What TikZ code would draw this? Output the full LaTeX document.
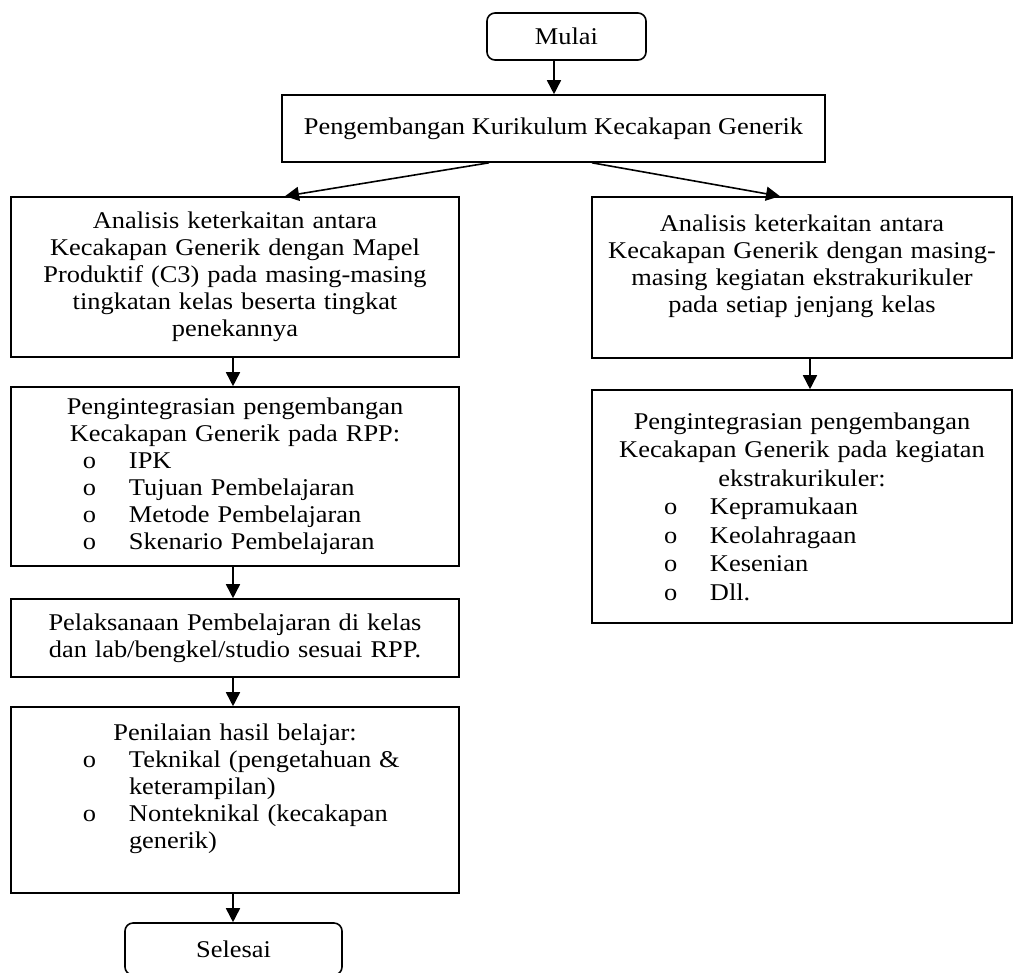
\documentclass[tikz,border=0pt]{standalone}
\usepackage{fontspec}
\setmainfont[FakeStretch=1.1]{Liberation Serif}
\usetikzlibrary{arrows.meta}

% one line of a list inside a box
\newcommand{\butir}[1]{\leavevmode\hbox to \hsize{\hspace*{72pt}\makebox[46pt][l]{o}#1\hfil}}
\newcommand{\lanjut}[1]{\leavevmode\hbox to \hsize{\hspace*{118pt}#1\hfil}}

\begin{document}
\begin{tikzpicture}[x=1pt,y=-1pt,
  kotak/.style={draw,line width=1.6pt,inner xsep=0pt,inner ysep=0pt,align=center,
    font=\fontsize{24}{27}\selectfont},
  bulat/.style={kotak,rounded corners=8pt},
  panah/.style={line width=1.6pt,-{Triangle[length=14pt,width=14pt]}}]
\useasboundingbox (0,0) rectangle (1014,972);

\node [bulat,minimum width=159,minimum height=47] (mulai) at (566.5,36.5) {Mulai};
\node [kotak,minimum width=543,minimum height=67] (kurikulum) at (553.5,128.5) {Pengembangan Kurikulum Kecakapan Generik};

% kiri
\node [kotak,minimum width=448,minimum height=160,text width=448] (analisisA) at (235,277)
  {Analisis keterkaitan antara\\ Kecakapan Generik dengan Mapel\\ Produktif (C3) pada masing-masing\\ tingkatan kelas beserta tingkat\\ penekannya};
\node [kotak,minimum width=448,minimum height=179,text width=448] (integrasiA) at (235,476.5)
  {Pengintegrasian pengembangan\\ Kecakapan Generik pada RPP:\\
   \butir{IPK}\\ \butir{Tujuan Pembelajaran}\\ \butir{Metode Pembelajaran}\\ \butir{Skenario Pembelajaran}};
\node [kotak,minimum width=448,minimum height=78,text width=448] (pelaksanaan) at (235,638)
  {Pelaksanaan Pembelajaran di kelas\\ dan lab/bengkel/studio sesuai RPP.};
\node [kotak,minimum width=448,minimum height=186,text width=448] (penilaian) at (235,800)
  {Penilaian hasil belajar:\\ \butir{Teknikal (pengetahuan \&}\\ \lanjut{keterampilan)}\\
   \butir{Nonteknikal (kecakapan}\\ \lanjut{generik)}\\ \mbox{}};
\node [bulat,minimum width=217,minimum height=52] (selesai) at (233.5,949) {Selesai};

% kanan
\node [kotak,minimum width=420,minimum height=161,text width=420] (analisisB) at (802,277.5)
  {Analisis keterkaitan antara\\ Kecakapan Generik dengan masing-\\ masing kegiatan ekstrakurikuler\\ pada setiap jenjang kelas\\ \mbox{}};
\node [kotak,minimum width=420,minimum height=233,text width=420,
  font=\fontsize{24}{28.5}\selectfont] (integrasiB) at (802,506.5)
  {Pengintegrasian pengembangan\\ Kecakapan Generik pada kegiatan\\ ekstrakurikuler:\\
   \butir{Kepramukaan}\\ \butir{Keolahragaan}\\ \butir{Kesenian}\\ \butir{Dll.}};

\draw [panah] ([xshift=-12.5pt]mulai.south) -- ([xshift=-12.5pt]mulai.south |- kurikulum.north);
\draw [panah] ([xshift=-64.5pt]kurikulum.south) -- ([xshift=50pt]analisisA.north);
\draw [panah] ([xshift=38.5pt]kurikulum.south) -- ([xshift=-22pt]analisisB.north);
\draw [panah] ([xshift=-2pt]analisisA.south) -- ([xshift=-2pt]integrasiA.north);
\draw [panah] ([xshift=-2pt]integrasiA.south) -- ([xshift=-2pt]pelaksanaan.north);
\draw [panah] ([xshift=-2pt]pelaksanaan.south) -- ([xshift=-2pt]penilaian.north);
\draw [panah] ([xshift=-2pt]penilaian.south) -- ([xshift=-2pt]penilaian.south |- selesai.north);
\draw [panah] ([xshift=8pt]analisisB.south) -- ([xshift=8pt]analisisB.south |- integrasiB.north);
\end{tikzpicture}
\end{document}
